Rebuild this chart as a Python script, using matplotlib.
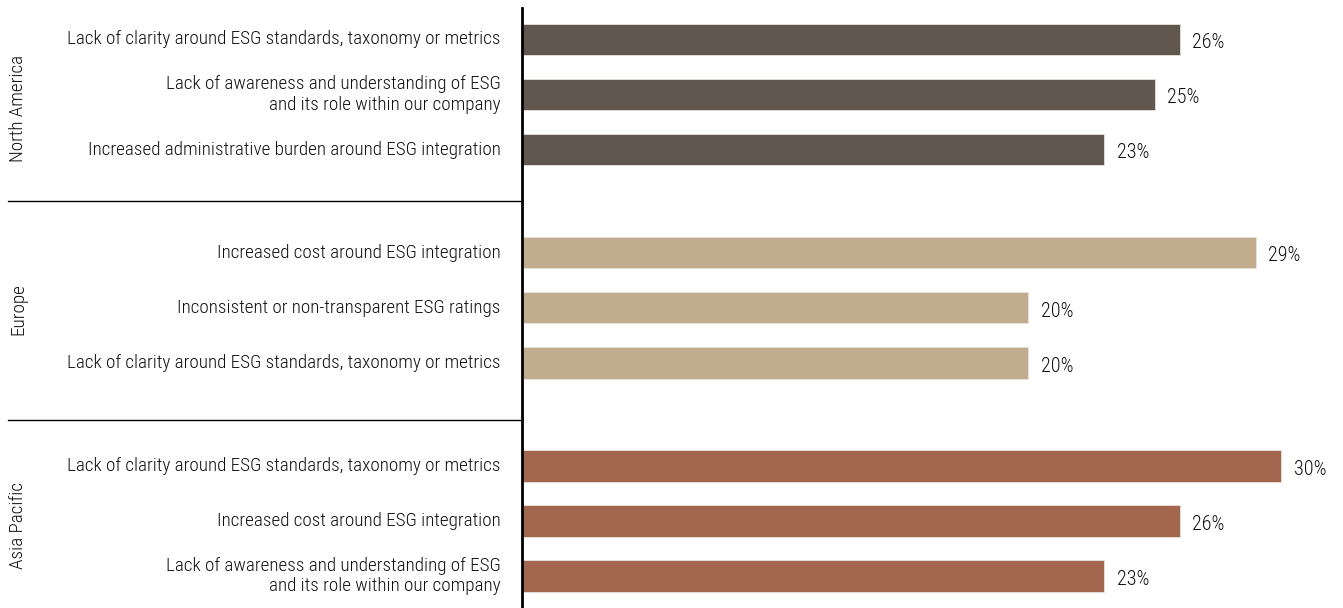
import matplotlib.pyplot as plt
from matplotlib.lines import Line2D
from matplotlib import transforms

# data
regions = ["North America", "Europe", "Asia Pacific"]
na_labels = ["Lack of clarity around ESG standards, taxonomy or metrics",
             "Lack of awareness and understanding of ESG\nand its role within our company",
             "Increased administrative burden around ESG integration"]
na_values = [26, 25, 23]
eu_labels = ["Increased cost around ESG integration",
             "Inconsistent or non-transparent ESG ratings",
             "Lack of clarity around ESG standards, taxonomy or metrics"]
eu_values = [29, 20, 20]
ap_labels = ["Lack of clarity around ESG standards, taxonomy or metrics",
             "Increased cost around ESG integration",
             "Lack of awareness and understanding of ESG\nand its role within our company"]
ap_values = [30, 26, 23]

colors = ["#61574F", "#C2AC8E", "#A3664F"]

plt.rcParams['font.family'] = ['Roboto Condensed', 'DejaVu Sans']
plt.rcParams['font.weight'] = 'light'

fig = plt.figure(figsize=(13.43, 6.08), dpi=100)
ax = fig.add_axes([522 / 1343, 0, 1 - 522 / 1343, 600 / 608])

groups = [(na_labels, na_values), (eu_labels, eu_values), (ap_labels, ap_values)]
for g, (labels, values) in enumerate(groups):
    ys = [g * 3.95 + i * 1.02 for i in range(3)]
    ax.barh(ys, values, height=0.58, color=colors[g], edgecolor="#e8e2dc", linewidth=0.6)
    for y, v, lab in zip(ys, values, labels):
        ax.text(v + 0.5, y + 0.06, f"{v}%", va="center", ha="left", fontsize=14.5, color="#111111")
        ax.text(-0.85, y, lab, va="center", ha="right", fontsize=13.8, color="#111111",
                linespacing=1.15, clip_on=False)

ax.set_xlim(0, (1343 - 522) / 25.3)
ax.set_ylim(10.53, -0.583)
ax.axis("off")
ax.plot([0, 0], [10.53, -0.583], color="black", lw=2, clip_on=False)

# separators between regions
trans = transforms.blended_transform_factory(fig.transFigure, ax.transData)
for y in [3, 7.05]:
    fig.add_artist(Line2D([8 / 1343, 522 / 1343], [y, y], transform=trans, color="black", lw=1))

for y, name in zip([1.27, 5.0, 9.0], regions):
    ax.text(18 / 1343, y, name, transform=trans, rotation=90, va="center", ha="center",
            fontsize=13.8, color="#111111")

fig.savefig("out.png", dpi=100)
